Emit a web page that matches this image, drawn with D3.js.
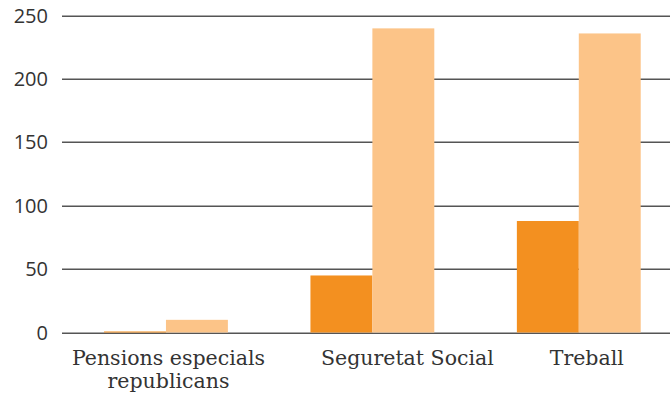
<!DOCTYPE html>
<html><head><meta charset="utf-8">
<script src="https://cdn.jsdelivr.net/npm/d3@7"></script>
<style>body{margin:0;background:#fff}svg{display:block}</style>
</head><body>
<svg id="c" width="670" height="398"></svg>
<script>
const categories = [["Pensions especials","republicans"],["Seguretat Social"],["Treball"]];
const seriesA = [0.8, 45, 88];
const seriesB = [10, 240, 236];
const yTicks = [0, 50, 100, 150, 200, 250];

// layout: horizontal nudge of each category label relative to its group center
const labelDx = [2.5, 35, 8];

const svg = d3.select("#c");
const y = d3.scaleLinear().domain([0, 250]).range([332.5, 15.7]);
const x0 = d3.scaleBand().domain(d3.range(categories.length)).range([62.75, 682]).paddingInner(0.4).paddingOuter(0.2);
const x1 = d3.scaleBand().domain([0, 1]).range([0, x0.bandwidth()]);
const colors = ["#F39020", "#FCC488"];
const font = "'DejaVu Serif', serif";

svg.append("g").selectAll("line").data(yTicks).join("line")
  .attr("x1", 62).attr("x2", 670)
  .attr("y1", d => Math.round(y(d)) + 0.25).attr("y2", d => Math.round(y(d)) + 0.25)
  .attr("stroke", "#555").attr("stroke-width", 1.5);

svg.append("g").selectAll("text").data(yTicks).join("text")
  .attr("x", 48).attr("y", d => y(d)).attr("dy", "0.35em")
  .attr("text-anchor", "end").attr("fill", "#333")
  .style("font-family", "'Open Sans', sans-serif").style("font-size", "20px")
  .text(d => d);

const series = [seriesA, seriesB];
series.forEach((s, si) => {
  svg.append("g").selectAll("rect").data(s).join("rect")
    .attr("x", (d, i) => x0(i) + x1(si))
    .attr("width", x1.bandwidth())
    .attr("y", d => y(d))
    .attr("height", d => y(0) - y(d))
    .attr("fill", colors[si]);
});

const lab = svg.append("g").selectAll("text").data(categories).join("text")
  .attr("text-anchor", "middle").attr("fill", "#333")
  .style("font-family", font).style("font-size", "20.5px")
  .attr("transform", (d, i) => `translate(${x0(i) + x0.bandwidth()/2 + labelDx[i]},365)`);
lab.selectAll("tspan").data(d => d).join("tspan")
  .attr("x", 0).attr("y", (d, i) => i * 23).text(d => d);
</script>
</body></html>
